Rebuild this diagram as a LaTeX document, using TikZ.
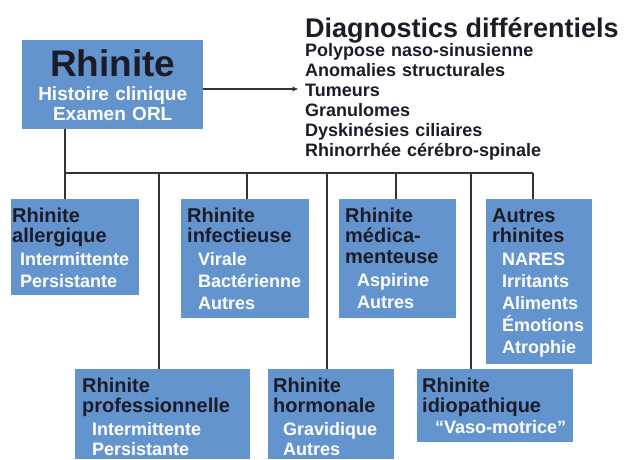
\documentclass[tikz,border=0pt]{standalone}
\usepackage{fontspec}
\setmainfont{Liberation Sans}
\usepackage{xcolor}
\usetikzlibrary{arrows.meta}

\definecolor{boxblue}{RGB}{100,148,206}
\definecolor{ink}{RGB}{28,28,40}
\definecolor{wirecol}{RGB}{51,51,51}

\newcommand{\fs}[2]{\fontsize{#1}{#2}\selectfont}
\newcommand{\itm}[2][10pt]{\hspace*{#1}{\fs{18}{20}\color{white}#2}}

\tikzset{
  sub/.style={fill=boxblue, anchor=north west, align=left, inner ysep=0pt, inner xsep=6pt,
    text height=23pt, font=\bfseries\fs{20}{20}, text=ink},
  wire/.style={draw=wirecol, line width=1.8pt}
}

\begin{document}
\begin{tikzpicture}[x=1pt,y=-1pt]

      \useasboundingbox (0,0) rectangle (625,459);

      % main box and differential list
      \node[fill=boxblue, anchor=north west, align=center, inner sep=0pt, text width=181pt,
        text height=36pt, text depth=53pt, font=\bfseries\fs{19}{20}, text=white] (rhin) at (22,40)
        {{\fs{37}{37}\color{ink}Rhinite}\\[4pt]Histoire clinique\\Examen ORL};

      \node[anchor=north west, inner sep=0pt, text height=20pt, font=\bfseries\fs{27}{27}, text=ink] (ddh) at (305,17) {Diagnostics différentiels};
      \node[anchor=north west, inner sep=0pt, align=left, text width=300pt, text height=14pt,
        font=\bfseries\fs{18}{20}, text=ink] (ddx) at (305,42)
        {Polypose naso-sinusienne\\Anomalies structurales\\Tumeurs\\Granulomes\\Dyskinésies ciliaires\\Rhinorrhée cérébro-spinale};

      \coordinate (tum) at (298,89);
      \draw[wirecol, line width=1.5pt, -{Stealth[length=6pt,width=5pt]}] (rhin.east |- tum) -- (tum);

      % upper row
      \node[sub, inner xsep=1pt, text width=126pt, text depth=73pt] (allerg) at (11,199)
        {Rhinite\\allergique\\[3pt]\itm[8pt]{Intermittente}\\[2pt]\itm[8pt]{Persistante}};
      \node[sub, text width=116pt, text depth=96pt] (infect) at (181,199)
        {Rhinite\\infectieuse\\[3pt]\itm[11pt]{Virale}\\[2pt]\itm[11pt]{Bactérienne}\\[2pt]\itm[11pt]{Autres}};
      \node[sub, text width=105pt, text depth=96pt] (medic) at (339,199)
        {Rhinite\\médica-\\[1pt]menteuse\\[3pt]\itm[12pt]{Aspirine}\\[2pt]\itm[12pt]{Autres}};
      \node[sub, text width=94pt, text depth=142pt] (autres) at (486,199)
        {Autres\\rhinites\\[3pt]\itm{NARES}\\[2pt]\itm{Irritants}\\[2pt]\itm{Aliments}\\[2pt]\itm{Émotions}\\[2pt]\itm{Atrophie}};

      % lower row
      \node[sub, inner xsep=7pt, text width=161pt, text depth=67pt] (prof) at (75,369)
        {Rhinite\\professionnelle\\[3pt]\itm{Intermittente}\\[0pt]\itm{Persistante}};
      \node[sub, inner xsep=5pt, text width=116pt, text depth=67pt] (hormo) at (268,369)
        {Rhinite\\hormonale\\[3pt]\itm{Gravidique}\\[0pt]\itm{Autres}};
      \node[sub, inner xsep=5pt, text width=146pt, text depth=50pt] (idio) at (417,369)
        {Rhinite\\idiopathique\\[1pt]\itm[13pt]{“Vaso-motrice”}};

      % tree
      \coordinate (h1) at (65,173);
      \coordinate (h2) at (159,173);
      \coordinate (h3) at (247,173);
      \coordinate (h4) at (327,173);
      \coordinate (h5) at (396,173);
      \coordinate (h6) at (471,173);
      \coordinate (h7) at (533,173);

      \draw[wire] (rhin.south -| h1) -- (h1) -- (h7);
      \draw[wire] (h1) -- (allerg.north -| h1);
      \draw[wire] (h2) -- (prof.north -| h2);
      \draw[wire] (h3) -- (infect.north -| h3);
      \draw[wire] (h4) -- (hormo.north -| h4);
      \draw[wire] (h5) -- (medic.north -| h5);
      \draw[wire] (h6) -- (idio.north -| h6);
      \draw[wire] (h7) -- (autres.north -| h7);

    \end{tikzpicture}
\end{document}
